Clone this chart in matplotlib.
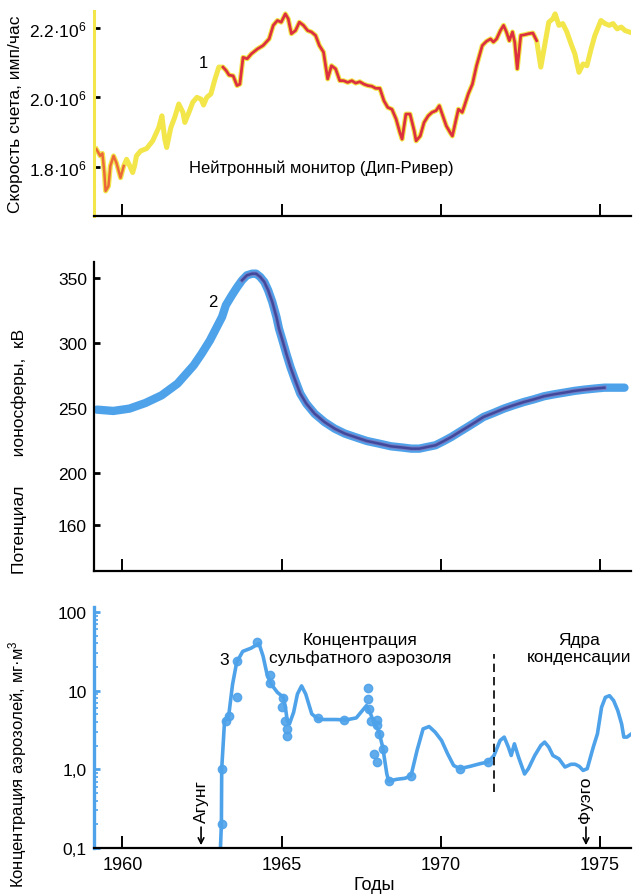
import matplotlib
matplotlib.use("Agg")
import matplotlib.pyplot as plt
from matplotlib.ticker import LogLocator, NullFormatter, FixedLocator

plt.rcParams['font.family'] = ['Liberation Sans Narrow', 'Liberation Sans', 'DejaVu Sans']
plt.rcParams['mathtext.default'] = 'regular'

# 1 - neutron monitor (Deep River), count rate in 10^6 counts/hour
nm_year = [1959.18, 1959.30, 1959.37, 1959.43, 1959.47, 1959.56, 1959.62, 1959.72, 1959.81, 1959.94,
           1960.04, 1960.13, 1960.23, 1960.32, 1960.38, 1960.44, 1960.57, 1960.76, 1960.95, 1961.14,
           1961.24, 1961.33, 1961.39, 1961.52, 1961.64, 1961.77, 1961.90, 1961.96, 1962.09, 1962.21,
           1962.34, 1962.47, 1962.55, 1962.65, 1962.78, 1962.91, 1963.03, 1963.16, 1963.26, 1963.35,
           1963.48, 1963.60, 1963.69, 1963.79, 1963.92, 1964.05, 1964.24, 1964.42, 1964.61, 1964.74,
           1964.87, 1964.99, 1965.12, 1965.21, 1965.31, 1965.44, 1965.56, 1965.69, 1965.82, 1965.94,
           1966.07, 1966.19, 1966.32, 1966.45, 1966.57, 1966.70, 1966.83, 1966.95, 1967.08, 1967.21,
           1967.33, 1967.46, 1967.59, 1967.71, 1967.84, 1967.96, 1968.09, 1968.22, 1968.34, 1968.47,
           1968.60, 1968.72, 1968.79, 1968.91, 1969.04, 1969.17, 1969.23, 1969.36, 1969.48, 1969.61,
           1969.73, 1969.86, 1969.96, 1970.05, 1970.18, 1970.30, 1970.37, 1970.49, 1970.56, 1970.68,
           1970.75, 1970.87, 1971.00, 1971.13, 1971.31, 1971.44, 1971.57, 1971.66, 1971.76, 1971.88,
           1971.98, 1972.07, 1972.16, 1972.26, 1972.33, 1972.41, 1972.52, 1972.64, 1972.77, 1972.90,
           1973.02, 1973.15, 1973.27, 1973.40, 1973.53, 1973.60, 1973.72, 1973.84, 1973.97, 1974.10,
           1974.22, 1974.35, 1974.48, 1974.60, 1974.73, 1974.85, 1975.04, 1975.17, 1975.30, 1975.42,
           1975.55, 1975.68, 1975.80, 1975.93]
nm_rate = [1.851, 1.832, 1.839, 1.784, 1.731, 1.745, 1.803, 1.832, 1.812, 1.769,
           1.803, 1.822, 1.803, 1.784, 1.803, 1.832, 1.846, 1.853, 1.875, 1.913,
           1.947, 1.880, 1.856, 1.913, 1.942, 1.981, 1.957, 1.928, 1.957, 1.986,
           2.000, 1.995, 1.978, 2.000, 2.010, 2.053, 2.087, 2.087, 2.077, 2.064,
           2.062, 2.034, 2.038, 2.115, 2.111, 2.125, 2.139, 2.149, 2.168, 2.207,
           2.221, 2.216, 2.240, 2.226, 2.183, 2.192, 2.216, 2.207, 2.192, 2.188,
           2.178, 2.149, 2.130, 2.053, 2.091, 2.082, 2.048, 2.048, 2.043, 2.048,
           2.041, 2.045, 2.038, 2.034, 2.032, 2.026, 2.026, 1.990, 1.971, 1.966,
           1.938, 1.899, 1.880, 1.952, 1.952, 1.904, 1.875, 1.889, 1.928, 1.947,
           1.957, 1.962, 1.976, 1.952, 1.918, 1.899, 1.889, 1.938, 1.966, 1.957,
           1.976, 2.010, 2.038, 2.091, 2.149, 2.161, 2.168, 2.159, 2.168, 2.192,
           2.207, 2.188, 2.163, 2.188, 2.159, 2.082, 2.178, 2.180, 2.183, 2.185,
           2.163, 2.087, 2.149, 2.216, 2.226, 2.240, 2.207, 2.212, 2.188, 2.154,
           2.125, 2.072, 2.096, 2.091, 2.139, 2.178, 2.221, 2.212, 2.207, 2.212,
           2.197, 2.202, 2.192, 2.188]

# 2 - ionospheric potential, kV
ion_year = [1959.20, 1959.71, 1960.22, 1960.72, 1961.23, 1961.73, 1962.24, 1962.49, 1962.75, 1962.94,
            1963.13, 1963.25, 1963.44, 1963.61, 1963.76, 1963.91, 1964.08, 1964.20, 1964.33, 1964.46,
            1964.58, 1964.71, 1964.84, 1964.92, 1965.03, 1965.15, 1965.28, 1965.41, 1965.59, 1965.78,
            1966.04, 1966.35, 1966.67, 1966.99, 1967.30, 1967.68, 1968.06, 1968.44, 1968.82, 1969.08,
            1969.33, 1969.58, 1969.84, 1970.09, 1970.34, 1970.59, 1970.85, 1971.10, 1971.35, 1971.67,
            1971.99, 1972.30, 1972.62, 1972.94, 1973.25, 1973.57, 1973.89, 1974.20, 1974.52, 1974.84,
            1975.15, 1975.47, 1975.78]
ion_kv = [248.7, 247.7, 249.5, 253.8, 259.7, 268.7, 282.8, 291.8, 302.0, 311.0,
          320.0, 329.0, 336.7, 343.1, 348.2, 352.0, 353.3, 353.3, 350.8, 346.9,
          340.5, 331.5, 320.0, 311.0, 302.0, 291.8, 281.5, 272.6, 261.0, 253.3,
          245.6, 239.2, 234.1, 230.3, 227.7, 224.6, 222.6, 220.5, 219.5, 218.7,
          218.7, 220.0, 221.3, 224.4, 227.7, 231.5, 235.4, 239.2, 243.1, 246.2,
          249.5, 252.1, 254.6, 256.7, 259.0, 260.5, 261.8, 263.1, 264.1, 264.9,
          265.6, 265.6, 265.6]

# 3 - aerosol concentration, mg/m^3
aer_year = [1963.08, 1963.11, 1963.12, 1963.21, 1963.34, 1963.46, 1963.59, 1963.78, 1964.04, 1964.29,
            1964.42, 1964.55, 1964.68, 1964.87, 1965.06, 1965.12, 1965.18, 1965.25, 1965.38, 1965.50,
            1965.63, 1965.76, 1965.95, 1966.14, 1966.33, 1966.71, 1967.03, 1967.35, 1967.54, 1967.67,
            1967.80, 1967.92, 1968.05, 1968.18, 1968.31, 1968.37, 1968.62, 1968.88, 1969.07, 1969.26,
            1969.45, 1969.64, 1969.83, 1970.03, 1970.22, 1970.41, 1970.60, 1970.92, 1971.24, 1971.49,
            1971.68, 1971.87, 1972.00, 1972.13, 1972.22, 1972.32, 1972.45, 1972.64, 1972.76, 1972.96,
            1973.15, 1973.27, 1973.40, 1973.53, 1973.72, 1973.91, 1974.10, 1974.23, 1974.36, 1974.48,
            1974.61, 1974.80, 1974.93, 1975.06, 1975.18, 1975.31, 1975.44, 1975.57, 1975.69, 1975.76,
            1975.86, 1976.0]
aer_conc = [0.1, 0.203, 1.02, 4.17, 4.83, 12.0, 22.9, 31.6, 34.7, 39.8,
            27.5, 15.8, 12.0, 9.52, 8.23, 6.15, 4.17, 3.78, 5.32, 9.07,
            11.5, 9.07, 5.07, 4.38, 4.30, 4.30, 4.25, 4.51, 5.58, 6.46,
            5.07, 3.78, 3.12, 1.92, 0.873, 0.709, 0.747, 0.770, 0.829, 1.74,
            3.27, 3.50, 2.97, 2.33, 1.58, 1.12, 1.02, 1.09, 1.18, 1.24,
            1.50, 2.33, 2.57, 1.92, 1.50, 2.11, 1.43, 0.873, 1.02, 1.50,
            2.01, 2.22, 1.92, 1.50, 1.36, 1.07, 1.16, 1.16, 1.09, 0.969,
            1.02, 1.92, 2.83, 6.15, 8.23, 8.64, 7.47, 5.58, 3.78, 2.57,
            2.57, 2.83]
# individual sample points
smp_year = [1963.12, 1963.12, 1963.25, 1963.34, 1963.59, 1963.59, 1964.24, 1964.65, 1964.65, 1965.06,
            1965.02, 1965.12, 1965.18, 1965.18, 1966.14, 1966.97, 1967.71, 1967.73, 1967.76, 1967.80,
            1967.99, 1968.01, 1968.05, 1967.92, 1968.01, 1968.18, 1968.37, 1969.07, 1970.60, 1971.49]
smp_conc = [0.203, 1.02, 4.17, 4.83, 8.23, 24.0, 41.7, 15.8, 12.6, 8.07,
            6.15, 4.17, 3.27, 2.69, 4.51, 4.25, 10.8, 7.85, 5.86, 4.17,
            4.25, 3.61, 2.83, 1.58, 1.24, 1.83, 0.709, 0.829, 1.02, 1.24]

year_ticks = [1960, 1965, 1970, 1975]
agung_year = 1962.47
fuego_year = 1974.57
split_year = 1971.68

YELLOW = "#f2e64a"
RED = "#dc3040"
BLUE = "#4ea2ea"
NAVY = "#2e3388"

fig = plt.figure(figsize=(6.34, 8.95), dpi=100)
L, W = 0.148, 0.848
ax1 = fig.add_axes([L, 0.7575, W, 0.229])
ax2 = fig.add_axes([L, 0.3609, W, 0.3453])
ax3 = fig.add_axes([L, 0.0514, W, 0.2693])

for ax in (ax1, ax2, ax3):
    ax.set_xlim(1959.1, 1976.0)
    ax.spines['top'].set_visible(False)
    ax.spines['right'].set_visible(False)
    ax.spines['bottom'].set_linewidth(1.6)
    ax.spines['left'].set_linewidth(1.6)
    ax.set_xticks(year_ticks)
    ax.tick_params(axis='x', direction='in', length=9, width=1.4, labelsize=13, pad=6)
    ax.tick_params(axis='y', direction='in', length=4, width=2, labelsize=12.5, pad=5)

# ---- top panel
ax1.plot(nm_year, nm_rate, color=YELLOW, lw=3.6, solid_joinstyle='round')
red_idx = [i for i, y in enumerate(nm_year) if 1963.1 <= y <= 1973.05]
ax1.plot([nm_year[i] for i in red_idx], [nm_rate[i] for i in red_idx], color=RED, lw=2.0,
         solid_joinstyle='round')
org_idx = [i for i, y in enumerate(nm_year) if y <= 1960.05]
ax1.plot([nm_year[i] for i in org_idx], [nm_rate[i] for i in org_idx], color="#ec6a3a", lw=1.8,
         solid_joinstyle='round')
ax1.set_ylim(1.659, 2.248)
ax1.set_yticks([1.8, 2.0, 2.2])
ax1.set_yticklabels(['1.8·10$^{6}$', '2.0·10$^{6}$', '2.2·10$^{6}$'])
ax1.spines['left'].set_color(YELLOW)
ax1.spines['left'].set_linewidth(2.2)
ax1.set_xticklabels([])
ax1.set_ylabel('Скорость счета, имп/час', fontsize=12.5)
ax1.yaxis.set_label_coords(-0.132, 0.5)
ax1.text(1962.55, 2.101, '1', fontsize=12, ha='center', va='center')
ax1.text(1966.26, 1.798, 'Нейтронный монитор (Дип-Ривер)', fontsize=12, ha='center', va='center')

# ---- middle panel
ax2.plot(ion_year, ion_kv, color=BLUE, lw=6, solid_capstyle='round', solid_joinstyle='round')
dark_idx = [i for i, y in enumerate(ion_year) if 1963.7 <= y <= 1975.2]
dk_year = [ion_year[i] for i in dark_idx]
dk_kv = [ion_kv[i] for i in dark_idx]
ax2.plot(dk_year, dk_kv, color="#c8307a", lw=3.2, alpha=0.3, solid_joinstyle='round')
ax2.plot(dk_year, dk_kv, color=NAVY, lw=1.8, alpha=0.7, solid_joinstyle='round')
ax2.set_ylim(124.6, 362.3)
ax2.set_yticks([160, 200, 250, 300, 350])
ax2.set_xticklabels([])
ax2.set_ylabel('Потенциал      ионосферы,  кВ', fontsize=12.5)
ax2.yaxis.set_label_coords(-0.125, 0.39)
ax2.text(1962.85, 332, '2', fontsize=12, ha='center', va='center')

# ---- bottom panel
ax3.set_yscale('log')
ax3.plot(aer_year, aer_conc, color=BLUE, lw=2.6, solid_joinstyle='round')
ax3.plot(smp_year, smp_conc, 'o', color=BLUE, ms=6, alpha=0.9)
ax3.set_ylim(0.1, 116)
ax3.yaxis.set_major_locator(FixedLocator([0.1, 1, 10, 100]))
ax3.set_yticklabels(['0,1', '1,0', '10', '100'])
ax3.yaxis.set_minor_locator(LogLocator(base=10, subs=[2, 3, 4, 5, 6, 7, 8, 9]))
ax3.yaxis.set_minor_formatter(NullFormatter())
ax3.tick_params(axis='y', which='both', colors=BLUE, labelcolor='black')
ax3.tick_params(axis='y', which='minor', direction='in', length=3, width=1.2)
ax3.spines['left'].set_color(BLUE)
ax3.spines['left'].set_linewidth(2.4)
ax3.set_xticklabels([str(y) for y in year_ticks])
ax3.set_xlabel('Годы', fontsize=13)
ax3.xaxis.set_label_coords(0.522, -0.115)
ax3.set_ylabel('Концентрация аэрозолей, мг·м$^{3}$', fontsize=12)
ax3.yaxis.set_label_coords(-0.121, 0.35)
ax3.vlines(split_year, 0.515, 29.2, colors='black', linestyles=(0, (5, 3)), lw=1.2)
ax3.text(1963.35, 25, '3', fontsize=12.5, ha='right', va='center')
ax3.text(1967.48, 34.7, 'Концентрация\nсульфатного аэрозоля', fontsize=12.5, ha='center',
         va='center', linespacing=1.2)
ax3.text(1974.36, 34.7, 'Ядра\nконденсации', fontsize=12.5, ha='center', va='center',
         linespacing=1.2)
for yr, name in ((agung_year, 'Агунг'), (fuego_year, 'Фуэго')):
    ax3.annotate('', xy=(yr, 0.1), xytext=(yr, 0.2),
                 arrowprops=dict(arrowstyle='->', color='black', lw=1.2))
    ax3.text(yr, 0.215, name, rotation=90, fontsize=12.5, ha='center', va='bottom')

fig.savefig('out.png', dpi=100)
